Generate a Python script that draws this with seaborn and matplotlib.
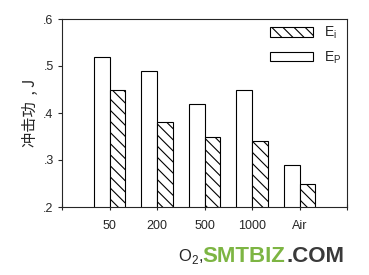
import matplotlib
matplotlib.use("Agg")
import matplotlib.pyplot as plt
import seaborn as sns
import pandas as pd
from matplotlib.patches import Patch

categories = ["50", "200", "500", "1000", "Air"]
ep_values = [0.52, 0.49, 0.42, 0.45, 0.29]
ei_values = [0.45, 0.38, 0.35, 0.34, 0.25]

sns.set_style("ticks")
plt.rcParams['font.family'] = ['Liberation Sans', 'Noto Sans CJK SC', 'DejaVu Sans']
plt.rcParams['hatch.linewidth'] = 0.8

df = pd.DataFrame({
    "cat": categories * 2,
    "val": ep_values + ei_values,
    "series": ["Ep"] * len(categories) + ["Ei"] * len(categories),
})

fig = plt.figure(figsize=(3.69, 2.75), dpi=100)
ax = fig.add_axes([62/369, 1 - 207/275, (347-62)/369, (207-19)/275])

sns.barplot(data=df, x="cat", y="val", hue="series", hue_order=["Ep", "Ei"],
            order=categories, palette=["white", "white"], edgecolor="black",
            linewidth=0.8, width=0.66, ax=ax, legend=False, saturation=1)

n = len(categories)
for i, bar in enumerate(ax.patches):
    if i >= n:
        bar.set_hatch("\\\\\\")

ax.set_ylim(0.2, 0.6)
ax.set_xlim(-1, 5)
ax.set_yticks([0.2, 0.3, 0.4, 0.5, 0.6])
ax.set_yticklabels([".2", ".3", ".4", ".5", ".6"], fontsize=9)
ax.set_xticks(range(-1, 6))
ax.set_xticklabels([""] + categories + [""], fontsize=9)
ax.tick_params(axis="x", direction="inout", length=5, width=0.8, pad=7)
ax.tick_params(axis="y", direction="out", length=3, width=0.8, pad=3)
for s in ax.spines.values():
    s.set_linewidth(0.8)
    s.set_visible(True)
ax.set_xlabel("")
ax.set_ylabel("冲击功  , J", fontsize=11, family=['Noto Sans CJK SC', 'DejaVu Sans'], labelpad=3)

handles = [Patch(facecolor="white", edgecolor="black", hatch="\\\\\\", linewidth=0.8, label="E$_\\mathregular{i}$"),
           Patch(facecolor="white", edgecolor="black", linewidth=0.8, label="E$_\\mathregular{P}$")]
ax.legend(handles=handles, loc="upper right", frameon=False, fontsize=10,
          handlelength=3.1, handleheight=0.7, handletextpad=0.8, labelspacing=0.6,
          borderaxespad=0.0)

fig.text(178/369, 1 - 256/275, "O$_\\mathregular{2}$,", fontsize=12, va="center", ha="left")
fig.text(202/369, 1 - 256/275, "SMTBIZ", fontsize=16, fontweight="bold", color="#7db543",
         va="center", ha="left")
fig.text(286/369, 1 - 256/275, ".COM", fontsize=16, fontweight="bold", color="#3a3a3a",
         va="center", ha="left")

fig.savefig("out.png", dpi=100)
